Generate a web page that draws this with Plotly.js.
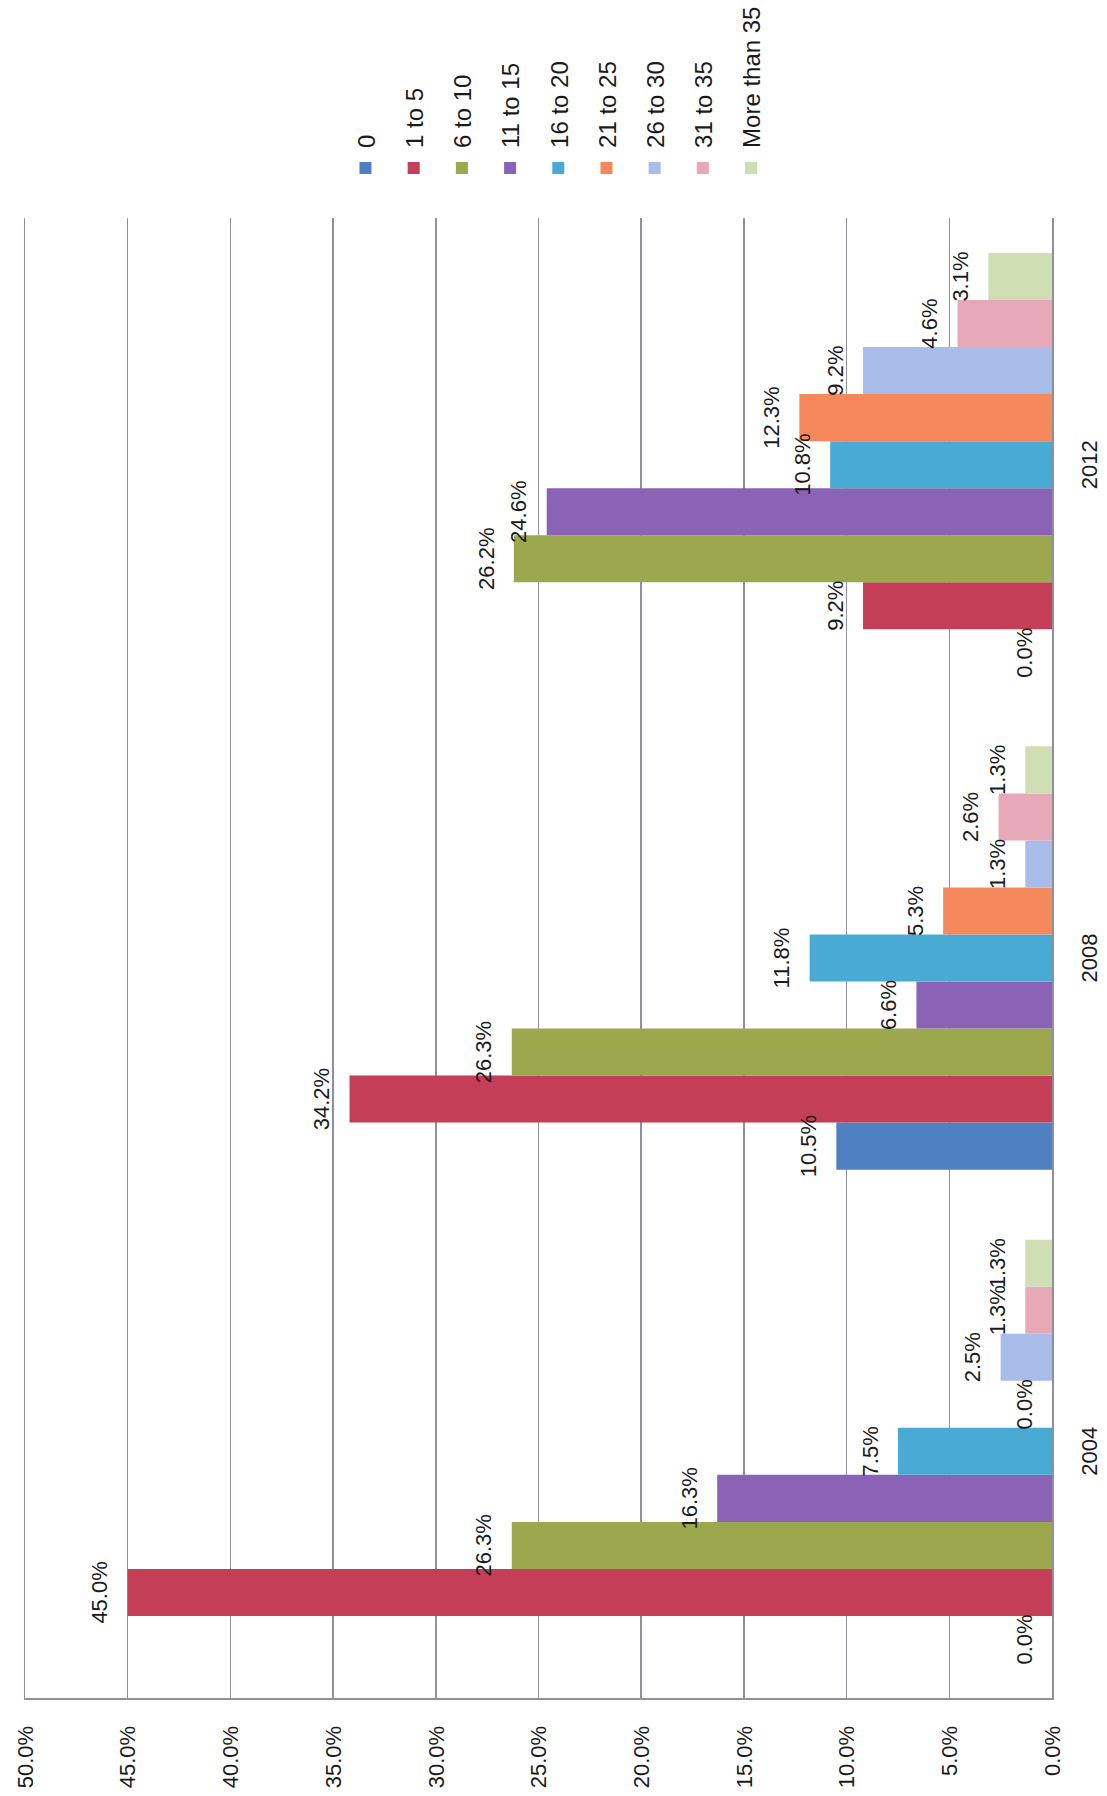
<!DOCTYPE html>
<html>
<head>
<meta charset="utf-8">
<script src="https://cdn.plot.ly/plotly-3.0.1.min.js"></script>
<style>
  html, body { margin:0; padding:0; background:#fff; }
  #wrap { position:absolute; left:0; top:0; width:1107px; height:1796px; overflow:hidden; background:#fff; }
  #chart { position:absolute; left:0; top:0; width:1796px; height:1107px;
           transform-origin:0 0; transform:translate(0px,1796px) rotate(-90deg); }
</style>
</head>
<body>
<div id="wrap"><div id="chart"></div></div>
<script>
const years = ['2004', '2008', '2012'];
const seriesNames = ['0', '1 to 5', '6 to 10', '11 to 15', '16 to 20', '21 to 25', '26 to 30', '31 to 35', 'More than 35'];
const s0      = [0.0, 10.5, 0.0];
const s1to5   = [45.0, 34.2, 9.2];
const s6to10  = [26.3, 26.3, 26.2];
const s11to15 = [16.3, 6.6, 24.6];
const s16to20 = [7.5, 11.8, 10.8];
const s21to25 = [0.0, 5.3, 12.3];
const s26to30 = [2.5, 1.3, 9.2];
const s31to35 = [1.3, 2.6, 4.6];
const sOver35 = [1.3, 1.3, 3.1];
const seriesValues = [s0, s1to5, s6to10, s11to15, s16to20, s21to25, s26to30, s31to35, sOver35];
const colors = ['#4F80C2', '#C33E56', '#9CA84E', '#8A62B6', '#49ABD3', '#F6895C', '#A8BDE9', '#E7A8B8', '#D0DEB4'];

const FONT = 'Liberation Sans, Arial, sans-serif';

// visible bars
const barTraces = seriesNames.map((name, i) => ({
  type: 'bar',
  name: name,
  legendgroup: 'g' + i,
  x: years,
  y: seriesValues[i],
  marker: { color: colors[i], line: { width: 0 } },
  hoverinfo: 'none'
}));

// data labels: same bars on a slightly offset overlaying axis, transparent, so labels sit a bit higher
const labelTraces = seriesNames.map((name, i) => ({
  type: 'bar',
  name: name,
  showlegend: false,
  xaxis: 'x',
  yaxis: 'y2',
  x: years,
  y: seriesValues[i],
  marker: { color: 'rgba(0,0,0,0)', line: { width: 0 } },
  text: seriesValues[i].map(v => v.toFixed(1) + '%'),
  textposition: 'outside',
  textangle: 0,
  constraintext: 'none',
  cliponaxis: false,
  textfont: { family: FONT, size: 22, color: '#1a1a1a' },
  hoverinfo: 'none'
}));

const layout = {
  width: 1796,
  height: 1107,
  margin: { l: 98, r: 218, t: 25, b: 55, autoexpand: false },
  paper_bgcolor: '#ffffff',
  plot_bgcolor: '#ffffff',
  barmode: 'group',
  bargap: 0.142,
  bargroupgap: 0,
  font: { family: FONT, color: '#1a1a1a' },
  showlegend: true,
  legend: {
    x: 1.0203, xanchor: 'left',
    y: 0.69, yanchor: 'top',
    font: { size: 24, color: '#1a1a1a' },
    tracegroupgap: 14,
    bgcolor: 'rgba(0,0,0,0)'
  },
  xaxis: {
    type: 'category',
    showgrid: false,
    showline: true,
    mirror: true,
    linecolor: '#8E909E',
    linewidth: 1.5,
    ticks: 'outside',
    ticklen: 17,
    tickcolor: 'rgba(0,0,0,0)',
    tickfont: { size: 22, color: '#1a1a1a' },
    zeroline: false
  },
  yaxis: {
    range: [0, 50],
    dtick: 5,
    tick0: 0,
    tickformat: '.1f',
    ticksuffix: '%',
    showgrid: true,
    gridcolor: '#8E909E',
    gridwidth: 1.5,
    showline: true,
    linecolor: '#8E909E',
    linewidth: 1.5,
    zeroline: false,
    ticks: 'outside',
    ticklen: 22,
    tickcolor: 'rgba(0,0,0,0)',
    tickfont: { size: 22, color: '#1a1a1a' }
  },
  yaxis2: {
    overlaying: 'y',
    range: [-0.6, 49.4],
    visible: false,
    showgrid: false,
    zeroline: false
  }
};

Plotly.newPlot('chart', barTraces.concat(labelTraces), layout, { staticPlot: true, displayModeBar: false });
</script>
</body>
</html>
